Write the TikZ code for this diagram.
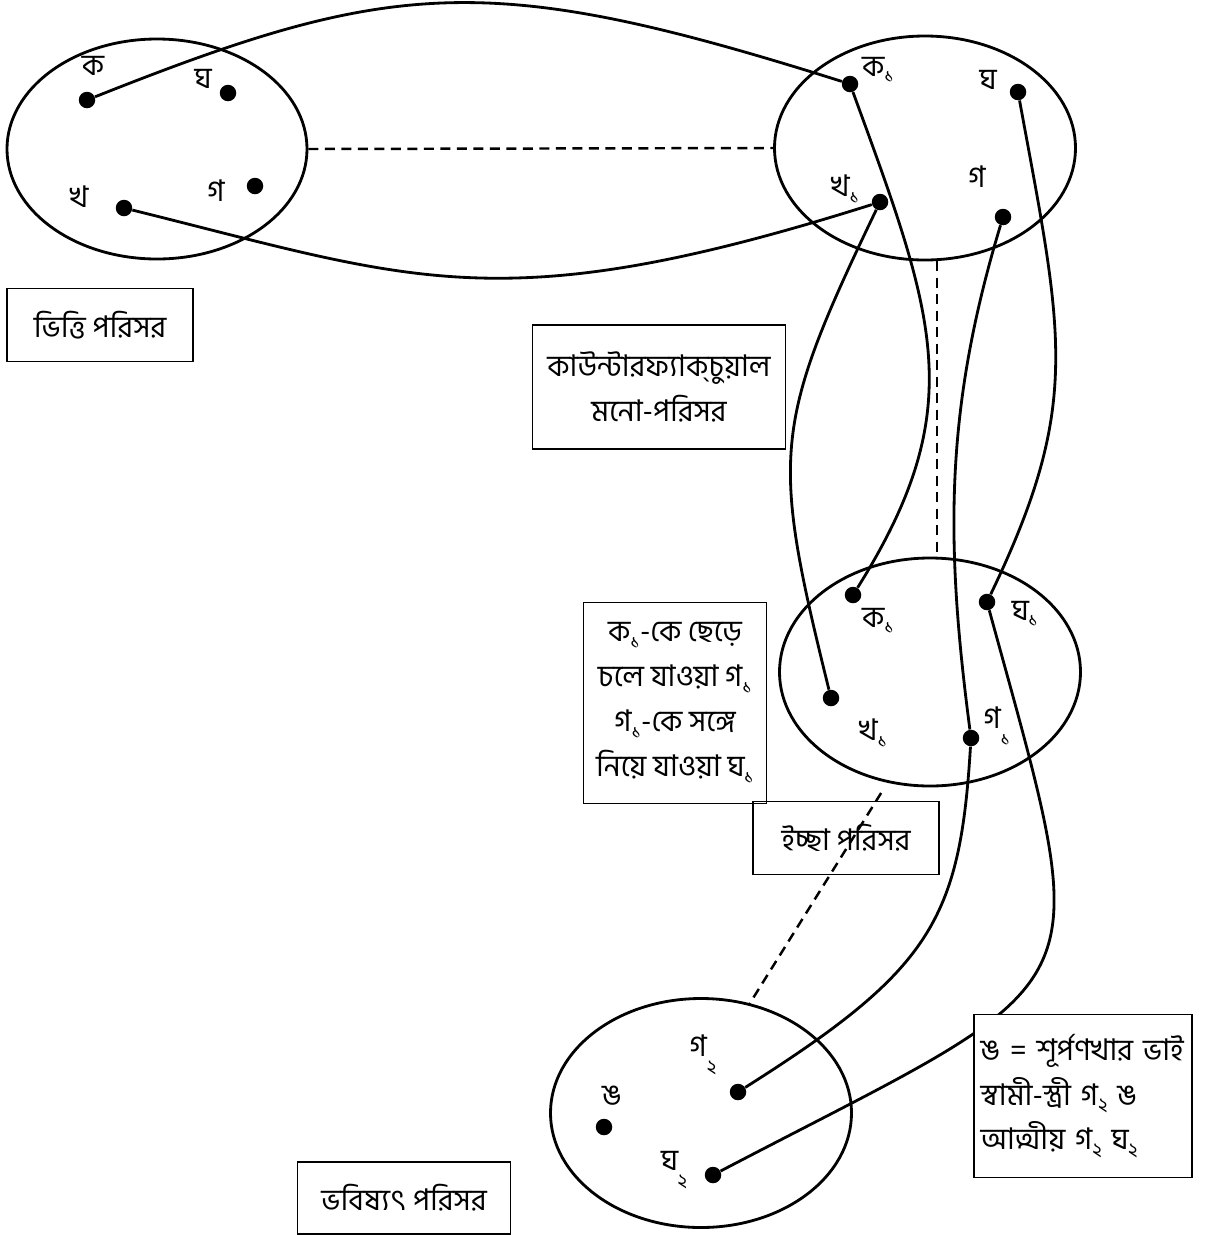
\documentclass[tikz,border=0pt]{standalone}
\usepackage{fontspec}
\setmainfont{Hind Siliguri}[Script=Bengali]
\usepackage{tikz}
\usetikzlibrary{shapes.geometric,positioning}

\newcommand{\lo}[1]{\raisebox{-0.45ex}{\fontsize{11}{11}\selectfont #1}}
\newcommand{\llo}[1]{\raisebox{-1.1ex}{\fontsize{11}{11}\selectfont #1}}

\tikzset{
  bn/.style={font=\fontsize{17}{25.5}\selectfont},
  world/.style={draw, ellipse, line width=1.6pt, inner sep=0pt},
  elem/.style={circle, fill=black, inner sep=0pt, minimum size=3.3mm},
  lbl/.style={bn, inner sep=0pt},
  pbox/.style={draw, line width=1.1pt, bn, align=center, inner sep=0pt},
  conn/.style={line width=1.6pt},
  dconn/.style={line width=1.4pt, dash pattern=on 2mm off 1.3mm},
}

\begin{document}
\begin{tikzpicture}[x=0.2mm, y=-0.2mm]
\useasboundingbox (0,0) rectangle (1207,1235);

% the four worlds
\node[world, minimum width=60mm, minimum height=44mm] (base) at (157,149) {};
\node[world, minimum width=60.2mm, minimum height=44.8mm] (cf) at (925,148) {};
\node[world, minimum width=60.2mm, minimum height=45.6mm] (des) at (930,672) {};
\node[world, minimum width=60.2mm, minimum height=45.8mm] (fut) at (701,1113) {};

% base world
\node[elem] (bk) at (87,100) {};
\node[elem] (bgh) at (228,93) {};
\node[elem] (bkh) at (124,208) {};
\node[elem] (bg) at (255,186) {};
\node[lbl] (bkl) at (93,66) {ক};
\node[lbl] (bghl) at (203,79) {ঘ};
\node[lbl] (bkhl) at (79,197) {খ};
\node[lbl] (bgl) at (216,191) {গ};

% counterfactual world
\node[elem] (ck) at (850,84) {};
\node[elem] (cgh) at (1018,92) {};
\node[elem] (ckh) at (880,202) {};
\node[elem] (cg) at (1003,217) {};
\node[lbl] (ckl) at (878,70) {ক\lo{১}};
\node[lbl] (cghl) at (988,80) {ঘ};
\node[lbl] (ckhl) at (845,189) {খ\lo{১}};
\node[lbl] (cgl) at (977,177) {গ};

% desire world
\node[elem] (dk) at (853,595) {};
\node[elem] (dgh) at (987,602) {};
\node[elem] (dkh) at (831,698) {};
\node[elem] (dg) at (971,738) {};
\node[lbl] (dkl) at (878,621) {ক\lo{১}};
\node[lbl] (dghl) at (1025,614) {ঘ\lo{১}};
\node[lbl] (dkhl) at (873,733) {খ\lo{১}};
\node[lbl] (dgl) at (997,726) {গ\llo{১}};

% future world
\node[elem] (fg) at (738,1092) {};
\node[elem] (fng) at (604,1127) {};
\node[elem] (fgh) at (713,1175) {};
\node[lbl] (fgl) at (703,1055) {গ\llo{২}};
\node[lbl] (fngl) at (612,1096) {ঙ};
\node[lbl] (fghl) at (674,1170) {ঘ\llo{২}};

% links between worlds
\draw[dconn] (base.east) -- (cf.west);
\draw[dconn] (cf.-84) -- (cf.-84 |- des.north);

\draw[conn] (bk) .. controls (394,-22) and (489,-30) .. (ck);
\draw[conn] (bkh) .. controls (415,280) and (500,322) .. (ckh);
\draw[conn] (ck) .. controls (936,319) and (970,408) .. (dk);
\draw[conn] (cgh) .. controls (1063,337) and (1082,404) .. (dgh);
\draw[conn] (ckh) .. controls (772,427) and (771,455) .. (dkh);
\draw[conn] (cg) .. controls (945,409) and (945,540) .. (dg);
\draw[conn] (dg) .. controls (960,920) and (931,970) .. (fg);
\draw[conn] (dgh) .. controls (1099,1010) and (1105,970) .. (fgh);

% labels of the worlds
\node[pbox, minimum width=37.2mm, minimum height=14.6mm] (basebox) at (100,325) {ভিত্তি পরিসর};
\node[pbox, minimum width=50.6mm, minimum height=24.8mm] (cfbox) at (659,387) {কাউন্টারফ্যাক্‌চুয়াল\\মনো-পরিসর};
\node[pbox, minimum width=36.6mm, minimum height=40.2mm] (notebox) at (675,703) {ক\lo{১}-কে ছেড়ে\\চলে যাওয়া গ\lo{১}\\গ\lo{১}-কে সঙ্গে\\নিয়ে যাওয়া ঘ\lo{১}};
\node[pbox, minimum width=37.2mm, minimum height=14.6mm] (desbox) at (846,838) {ইচ্ছা পরিসর};
\node[pbox, minimum width=42.6mm, minimum height=14.4mm] (futbox) at (404,1198) {ভবিষ্যৎ পরিসর};
\node[pbox, fill=white, align=left, text width=41mm, inner xsep=1.3mm, minimum height=32.6mm] (keybox) at (1083,1096) {ঙ = শূর্পণখার ভাই\\স্বামী-স্ত্রী গ\lo{২} ঙ\\আত্মীয় গ\lo{২} ঘ\lo{২}};

\draw[dconn, shorten <=2.4mm] (des.-111) -- (fut.66);
\end{tikzpicture}
\end{document}
